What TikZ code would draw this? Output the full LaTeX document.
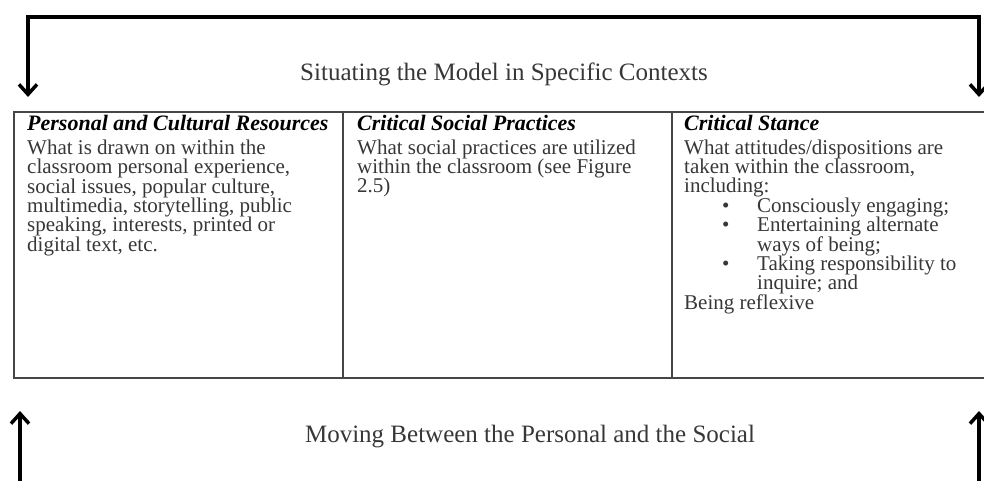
\documentclass[tikz,border=0pt]{standalone}
\usepackage{fontspec}
\setmainfont{Liberation Serif}
\usetikzlibrary{positioning,arrows.meta}

\definecolor{rulegray}{RGB}{70,70,70}
\definecolor{textgray}{RGB}{55,55,55}

\begin{document}
\begin{tikzpicture}[x=1pt, y=-1pt,
    cell/.style={draw=rulegray, line width=2pt, minimum height=266pt, anchor=north west, inner sep=0pt},
    head/.style={anchor=base west, inner sep=0pt, font=\fontsize{22}{23}\selectfont\bfseries\itshape},
    body/.style={align=left, inner sep=0pt, text=textgray, font=\fontsize{21}{19.4}\selectfont},
    label/.style={inner sep=0pt, text=textgray, font=\fontsize{25}{27}\selectfont},
    flow/.style={line width=3.5pt, {Straight Barb[length=10pt,width=18pt]}-{Straight Barb[length=10pt,width=18pt]}},
    rise/.style={line width=3.5pt, -{Straight Barb[length=10pt,width=18pt]}}]
    \useasboundingbox (0,0) rectangle (984,481);

    % the three columns
    \node[cell, minimum width=329pt] (res) at (13,111) {};
    \node[cell, minimum width=329pt] (prac) at (342,111) {};
    \node[cell, minimum width=318pt] (stance) at (671,111) {};

    % column headings and text
    \node[head] (reshead) at (27,131) {Personal and Cultural Resources};
    \node[body, below right=8pt and 0pt of reshead.south west] (restext) {What is drawn on within the\\
        classroom personal experience,\\
        social issues, popular culture,\\
        multimedia, storytelling, public\\
        speaking, interests, printed or\\
        digital text, etc.};

    \node[head] (prachead) at (357,131) {Critical Social Practices};
    \node[body, below right=8pt and 0pt of prachead.south west] (practext) {What social practices are utilized\\
        within the classroom (see Figure\\
        2.5)};

    \node[head] (stancehead) at (684,131) {Critical Stance};
    \node[body, below right=8pt and 0pt of stancehead.south west] (stancetext) {What attitudes/dispositions are\\
        taken within the classroom,\\
        including:\\
        \hspace*{38pt}\makebox[35pt][l]{\textbullet}Consciously engaging;\\
        \hspace*{38pt}\makebox[35pt][l]{\textbullet}Entertaining alternate\\
        \hspace*{73pt}ways of being;\\
        \hspace*{38pt}\makebox[35pt][l]{\textbullet}Taking responsibility to\\
        \hspace*{73pt}inquire; and\\
        Being reflexive};

    % outer loops
    \node[label] (situate) at (504,74) {Situating the Model in Specific Contexts};
    \node[label] (moving) at (530,437) {Moving Between the Personal and the Social};

    \coordinate (topbar) at (0,17);
    \coordinate (sitL) at (28,97);
    \coordinate (sitR) at (979,97);
    \draw[flow] (sitL) -- (sitL |- topbar) -- (sitR |- topbar) -- (sitR);

    \coordinate (lowbar) at (0,490);
    \coordinate (movL) at (20,411);
    \coordinate (movR) at (979,411);
    \draw[rise] (movL |- lowbar) -- (movL);
    \draw[rise] (movR |- lowbar) -- (movR);
\end{tikzpicture}
\end{document}
